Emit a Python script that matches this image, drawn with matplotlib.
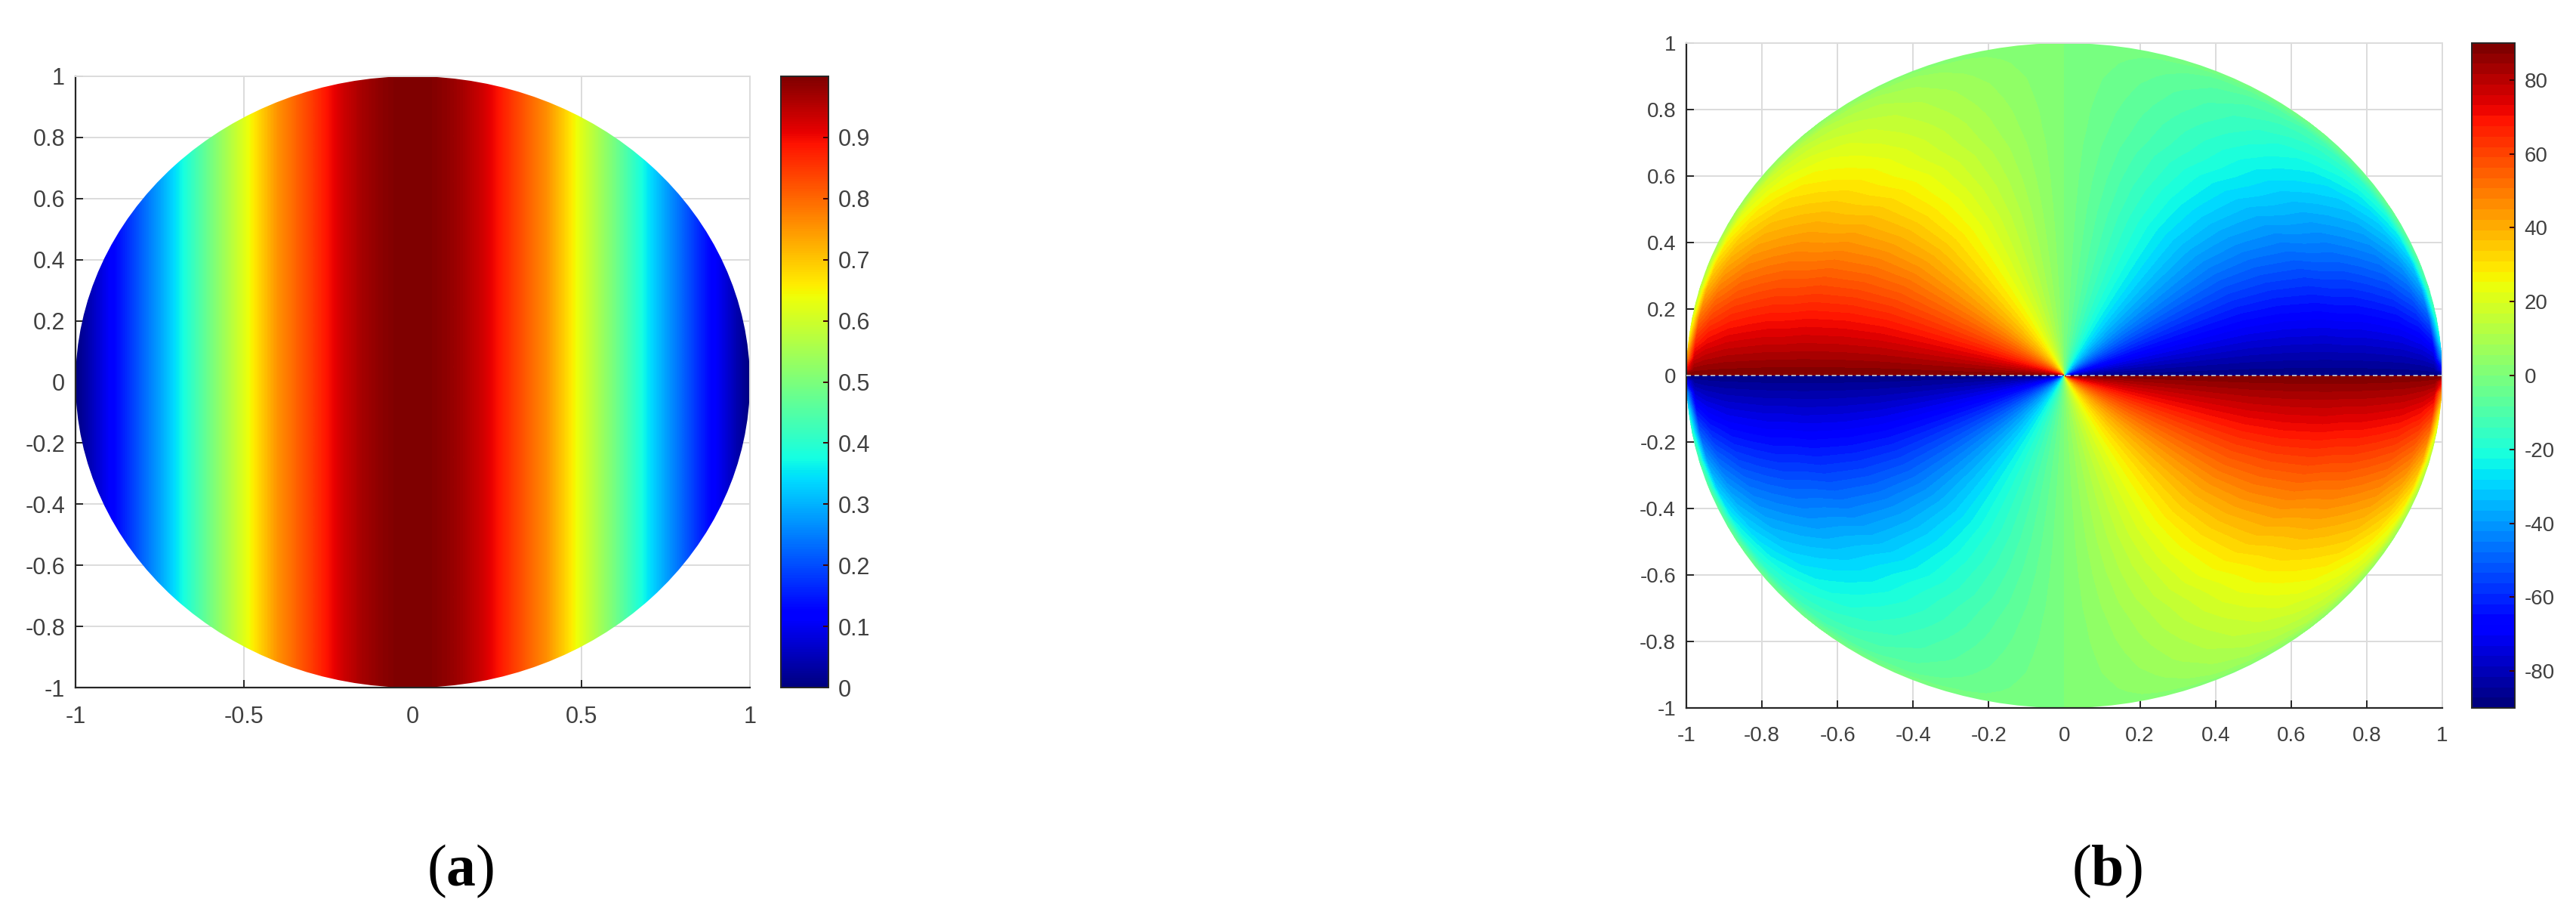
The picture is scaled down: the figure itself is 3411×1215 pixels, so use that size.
#!/usr/bin/env python3
"""Two unit-disc maps side by side, (a) and (b), each with a jet colorbar."""

import numpy as np
import matplotlib
matplotlib.use("Agg")
import matplotlib.pyplot as plt
from matplotlib.cm import ScalarMappable
from matplotlib.colors import Normalize
from matplotlib.patches import Circle

W, H = 3412, 1215

# (a) value against |x|
a_abs_x = [0.0, 0.05, 0.1, 0.15, 0.2, 0.25, 0.3, 0.35, 0.4, 0.45, 0.5,
           0.55, 0.6, 0.65, 0.7, 0.75, 0.8, 0.85, 0.9, 0.95, 1.0]
a_values = [1.0, 0.998, 0.985, 0.965, 0.935, 0.893, 0.845, 0.80, 0.755, 0.69, 0.62,
            0.555, 0.49, 0.42, 0.35, 0.285, 0.225, 0.165, 0.11, 0.055, 0.0]

# (b) upper left quadrant in polar form, the other three are its mirror images
b_radius = [0.002, 0.2, 0.4, 0.5, 0.6, 0.7, 0.75, 0.8, 0.85, 0.9, 0.95, 0.98, 1.0, 1.03]
b_angle = [0, 1, 3, 6, 10, 15, 20, 25, 30, 35, 40, 45, 50, 55, 60, 65, 70, 75, 80, 85, 90]
b_r000 = [90, 88.9, 86.7, 83.3, 78.9, 73.4, 68.0, 62.6, 57.3, 52.1, 47.0, 42.0, 37.0, 32.2, 27.4, 22.8, 18.1, 13.6, 9.0, 4.5, 0]
b_r020 = [90, 88.9, 86.6, 83.2, 78.7, 73.1, 67.6, 62.0, 56.8, 51.5, 46.4, 41.3, 36.5, 31.6, 27.0, 22.3, 17.8, 13.3, 8.8, 4.4, 0]
b_r040 = [90, 88.8, 86.5, 83.0, 78.4, 72.7, 67.1, 61.5, 56.1, 50.9, 45.6, 40.7, 35.8, 31.0, 26.4, 21.8, 17.4, 13.0, 8.6, 4.3, 0]
b_r050 = [90, 88.8, 86.5, 82.9, 78.3, 72.5, 66.9, 61.2, 55.8, 50.6, 45.3, 40.4, 35.5, 30.8, 26.1, 21.6, 17.2, 12.8, 8.5, 4.2, 0]
b_r060 = [90, 88.7, 86.2, 82.4, 77.4, 71.3, 65.3, 59.4, 53.8, 48.5, 43.2, 38.3, 33.5, 28.9, 24.5, 20.2, 16.0, 12.0, 7.9, 3.9, 0]
b_r070 = [90, 88.6, 85.7, 81.5, 75.9, 69.0, 62.5, 56.3, 50.4, 45.0, 39.8, 35.0, 30.4, 26.1, 22.0, 18.0, 14.3, 10.6, 7.0, 3.5, 0]
b_r075 = [90, 88.4, 85.2, 80.4, 74.2, 66.8, 59.8, 53.2, 47.2, 41.8, 36.6, 32.0, 27.7, 23.6, 19.8, 16.2, 12.8, 9.5, 6.3, 3.1, 0]
b_r080 = [90, 88.3, 84.8, 79.7, 73.1, 65.2, 57.9, 51.1, 45.1, 39.7, 34.6, 30.1, 26.0, 22.1, 18.5, 15.1, 11.9, 8.8, 5.8, 2.9, 0]
b_r085 = [90, 88.0, 84.1, 78.3, 70.9, 62.3, 54.5, 47.5, 41.4, 36.1, 31.3, 27.0, 23.2, 19.7, 16.4, 13.4, 10.5, 7.8, 5.1, 2.5, 0]
b_r090 = [90, 87.7, 83.2, 76.6, 68.1, 58.6, 50.4, 43.3, 37.3, 32.2, 27.6, 23.7, 20.3, 17.1, 14.3, 11.6, 9.1, 6.7, 4.4, 2.2, 0]
b_r095 = [90, 87.0, 81.0, 72.3, 61.9, 50.9, 42.2, 35.2, 29.7, 25.3, 21.4, 18.3, 15.5, 13.0, 10.8, 8.8, 6.8, 5.0, 3.3, 1.6, 0]
b_r098 = [90, 85.7, 77.2, 65.4, 52.5, 40.6, 32.3, 26.2, 21.7, 18.2, 15.3, 13.0, 10.9, 9.1, 7.6, 6.1, 4.8, 3.5, 2.3, 1.1, 0]
b_r100 = [90, 70.8, 43.6, 25.4, 15.8, 10.6, 7.8, 6.1, 4.9, 4.1, 3.4, 2.9, 2.4, 2.0, 1.7, 1.3, 1.0, 0.8, 0.5, 0.2, 0]
b_r103 = b_r100
b_table = [b_r000, b_r020, b_r040, b_r050, b_r060, b_r070, b_r075, b_r080,
           b_r085, b_r090, b_r095, b_r098, b_r100, b_r103]

a_ticks_x = [-1, -0.5, 0, 0.5, 1]
a_ticks_y = [-1, -0.8, -0.6, -0.4, -0.2, 0, 0.2, 0.4, 0.6, 0.8, 1]
a_ticks_c = [0, 0.1, 0.2, 0.3, 0.4, 0.5, 0.6, 0.7, 0.8, 0.9]
b_ticks = [-1, -0.8, -0.6, -0.4, -0.2, 0, 0.2, 0.4, 0.6, 0.8, 1]
b_ticks_c = [-80, -60, -40, -20, 0, 20, 40, 60, 80]

TEXT = "#404040"
GRID = "#dcdcdc"
DARK = "#262626"

plt.rcParams["font.family"] = ["Liberation Sans", "DejaVu Sans"]
plt.rcParams["mathtext.fontset"] = "custom"
plt.rcParams["mathtext.rm"] = "Liberation Serif"
plt.rcParams["mathtext.bf"] = "Liberation Serif:bold"

fig = plt.figure(figsize=(W / 100, H / 100), dpi=100)


def px_axes(x0, y0, x1, y1):
    # pixel box with y counted from the top of the picture
    return fig.add_axes([x0 / W, 1 - y1 / H, (x1 - x0) / W, (y1 - y0) / H])


def fmt(v):
    return f"{v:g}"


def style_map(ax, xticks, yticks, size):
    ax.set_xlim(-1, 1)
    ax.set_ylim(-1, 1)
    ax.set_xticks(xticks, [fmt(v) for v in xticks])
    ax.set_yticks(yticks, [fmt(v) for v in yticks])
    ax.set_axisbelow(True)
    ax.grid(True, color=GRID, lw=1.4)
    ax.tick_params(axis="x", direction="in", length=7, width=1.4, color=DARK,
                   labelcolor=TEXT, labelsize=size, pad=17)
    ax.tick_params(axis="y", direction="in", length=7, width=1.4, color=DARK,
                   labelcolor=TEXT, labelsize=size, pad=10)
    for side in ["top", "right"]:
        ax.spines[side].set_color(GRID)
        ax.spines[side].set_linewidth(1.4)
    for side in ["left", "bottom"]:
        ax.spines[side].set_color(DARK)
        ax.spines[side].set_linewidth(1.6)


def style_bar(cax, sm, ticks, size):
    cb = fig.colorbar(sm, cax=cax)
    cb.set_ticks(ticks, labels=[fmt(v) for v in ticks])
    cb.outline.set_edgecolor(DARK)
    cb.outline.set_linewidth(1.4)
    cax.tick_params(direction="in", length=5, width=1.4, color="#400000",
                    labelcolor=TEXT, labelsize=size, pad=9)
    cb.minorticks_off()


jet64 = plt.get_cmap("jet", 64)

# (a)
ax_a = px_axes(100, 101, 993, 910)
a_row = np.array(a_values[:0:-1] + a_values)
a_step = a_abs_x[1] - a_abs_x[0]
a_im = ax_a.imshow(np.vstack([a_row, a_row]), extent=[-1 - a_step / 2, 1 + a_step / 2, -1, 1],
                   cmap="jet", vmin=0, vmax=1, aspect="auto", origin="lower",
                   interpolation="bilinear", interpolation_stage="data", zorder=2)
a_im.set_clip_path(Circle((0, 0), 1, transform=ax_a.transData))
style_map(ax_a, a_ticks_x, a_ticks_y, 22)
style_bar(px_axes(1034, 101, 1097, 910), a_im, a_ticks_c, 22)

# (b)
ax_b = px_axes(2233, 57, 3234, 937)
rr, tt = np.meshgrid(b_radius, np.radians(b_angle), indexing="ij")
px, py = rr * np.cos(tt), rr * np.sin(tt)
vv = np.array(b_table, dtype=float)
levels = np.linspace(-90, 90, 65)
for sx, sy in [(-1, 1), (1, 1), (-1, -1), (1, -1)]:
    # left top and right bottom are positive, the two others negative
    sign = -sx * sy
    cs = ax_b.contourf(sx * px, sy * py, sign * vv, levels=levels, cmap="jet", zorder=2)
    cs.set_clip_path(Circle((0, 0), 1, transform=ax_b.transData))
ax_b.plot([-1, 1], [0, 0], color="#d8e4e4", lw=1.1, ls=(0, (4, 3)), zorder=3)
style_map(ax_b, b_ticks, b_ticks, 20)
b_sm = ScalarMappable(Normalize(-90, 90), jet64)
style_bar(px_axes(3273, 57, 3330, 937), b_sm, b_ticks_c, 20)

# panel letters
fig.text(610 / W, 1 - 1153 / H, r"($\mathbf{a}$)", family="Liberation Serif", fontsize=56,
         color="black", ha="center", va="center")
fig.text(2790 / W, 1 - 1153 / H, r"($\mathbf{b}$)", family="Liberation Serif", fontsize=56,
         color="black", ha="center", va="center")

fig.savefig("out.png", dpi=100)
